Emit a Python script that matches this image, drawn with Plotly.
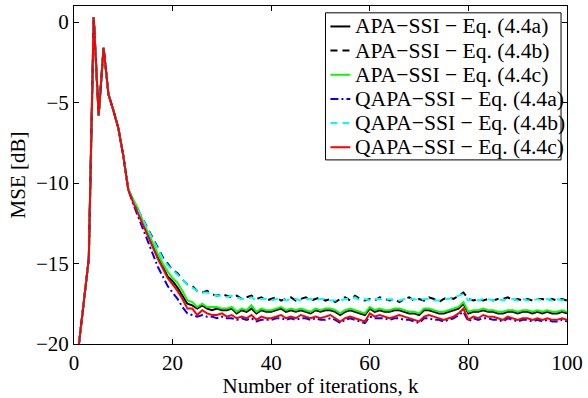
import plotly.graph_objects as go

k = list(range(1, 101))

# shared start (k = 1..11), all curves coincide
early = [-20.0, -17.4, -14.7, 0.3, -5.8, -1.6, -4.5, -5.5, -6.6, -8.3, -10.4]

# k = 12..100
apa_a_tail = [
    -11.1, -11.8, -12.6, -13.3, -13.9, -14.6, -15.2, -15.8, -16.1, -16.5,
    -17.0, -17.5, -17.6, -17.8, -17.6, -17.8, -17.9, -17.8, -17.9, -17.9,
    -17.8, -18.1, -17.9, -18.0, -17.8, -18.1, -17.9, -18.0, -18.0, -17.9,
    -17.8, -18.0, -17.9, -18.0, -17.9, -18.0, -18.1, -17.9, -18.0, -17.9,
    -17.9, -18.0, -18.2, -18.0, -17.9, -18.0, -18.1, -18.2, -17.8, -18.0,
    -17.9, -18.0, -18.0, -17.9, -17.9, -18.0, -18.1, -18.1, -18.2, -17.9,
    -17.9, -18.0, -18.1, -18.1, -18.0, -17.9, -17.8, -17.5, -18.1, -18.0,
    -18.0, -17.9, -18.0, -18.0, -18.1, -18.1, -18.0, -18.0, -18.1, -18.0,
    -18.0, -18.1, -18.0, -18.1, -18.0, -18.1, -18.1, -18.0, -18.1,
]
apa_b_tail = [
    -11.1, -11.7, -12.3, -12.9, -13.5, -14.1, -14.6, -15.0, -15.4, -15.6,
    -16.0, -16.3, -16.4, -16.7, -16.8, -16.7, -16.9, -17.0, -16.9, -17.0,
    -17.1, -17.0, -17.2, -17.1, -17.0, -17.2, -17.1, -17.3, -17.2, -17.1,
    -17.3, -17.2, -17.1, -17.3, -17.2, -17.1, -17.3, -17.2, -17.1, -17.3,
    -17.2, -17.4, -17.2, -17.1, -17.3, -17.0, -17.2, -17.3, -17.2, -17.3,
    -17.1, -17.2, -17.3, -17.2, -17.4, -17.2, -17.1, -17.3, -17.2, -17.3,
    -17.1, -17.2, -17.4, -17.2, -17.1, -17.2, -17.0, -16.8, -17.2, -17.3,
    -17.2, -17.3, -17.2, -17.3, -17.2, -17.2, -17.1, -17.3, -17.2, -17.3,
    -17.2, -17.3, -17.2, -17.2, -17.3, -17.2, -17.3, -17.2, -17.3,
]
apa_c_tail = [
    -11.0, -11.6, -12.4, -13.1, -13.7, -14.4, -15.0, -15.5, -15.9, -16.2,
    -16.7, -17.3, -17.4, -17.7, -17.5, -17.7, -17.7, -17.7, -17.8, -17.8,
    -17.7, -18.0, -17.8, -17.9, -17.6, -18.0, -17.8, -17.9, -17.9, -17.8,
    -17.7, -17.9, -17.8, -17.9, -17.8, -17.9, -18.0, -17.8, -17.9, -17.8,
    -17.8, -17.9, -18.1, -17.9, -17.8, -17.9, -18.0, -18.1, -17.7, -17.9,
    -17.8, -17.9, -17.9, -17.8, -17.8, -17.9, -18.0, -18.0, -18.1, -17.8,
    -17.8, -17.9, -18.0, -18.0, -17.9, -17.8, -17.7, -17.4, -18.0, -17.9,
    -17.9, -17.8, -17.9, -17.9, -18.0, -18.0, -17.9, -17.9, -18.0, -17.9,
    -17.9, -18.0, -17.9, -18.0, -17.9, -18.0, -18.0, -17.9, -18.0,
]
qapa_a_tail = [
    -11.3, -12.1, -12.9, -13.7, -14.5, -15.2, -15.8, -16.4, -16.8, -17.2,
    -17.7, -18.1, -18.2, -18.3, -18.2, -18.3, -18.3, -18.4, -18.3, -18.4,
    -18.4, -18.5, -18.4, -18.5, -18.4, -18.6, -18.5, -18.5, -18.5, -18.4,
    -18.4, -18.5, -18.4, -18.5, -18.4, -18.4, -18.5, -18.4, -18.5, -18.5,
    -18.4, -18.5, -18.7, -18.5, -18.4, -18.5, -18.6, -18.7, -18.3, -18.4,
    -18.4, -18.4, -18.5, -18.4, -18.4, -18.5, -18.5, -18.6, -18.7, -18.4,
    -18.4, -18.5, -18.5, -18.6, -18.5, -18.4, -18.2, -18.0, -18.6, -18.4,
    -18.5, -18.4, -18.4, -18.5, -18.5, -18.6, -18.4, -18.5, -18.6, -18.5,
    -18.5, -18.6, -18.5, -18.6, -18.5, -18.6, -18.6, -18.5, -18.6,
]
qapa_b_tail = [
    -11.1, -11.7, -12.4, -13.0, -13.6, -14.2, -14.7, -15.1, -15.4, -15.7,
    -16.0, -16.3, -16.5, -16.7, -16.8, -16.8, -16.9, -17.0, -17.0, -17.1,
    -17.0, -17.1, -17.2, -17.2, -17.1, -17.3, -17.2, -17.2, -17.3, -17.2,
    -17.2, -17.3, -17.2, -17.2, -17.3, -17.2, -17.2, -17.3, -17.2, -17.2,
    -17.3, -17.3, -17.3, -17.2, -17.2, -17.1, -17.3, -17.2, -17.3, -17.2,
    -17.2, -17.3, -17.2, -17.3, -17.3, -17.2, -17.2, -17.2, -17.3, -17.2,
    -17.2, -17.3, -17.3, -17.2, -17.2, -17.1, -17.0, -16.9, -17.3, -17.2,
    -17.3, -17.2, -17.2, -17.3, -17.2, -17.3, -17.2, -17.2, -17.3, -17.2,
    -17.3, -17.3, -17.2, -17.3, -17.2, -17.3, -17.2, -17.3, -17.2,
]
qapa_c_tail = [
    -11.2, -11.9, -12.7, -13.4, -14.0, -14.7, -15.3, -15.9, -16.3, -16.7,
    -17.2, -17.8, -17.8, -18.2, -17.9, -18.1, -18.2, -18.2, -18.1, -18.3,
    -18.2, -18.4, -18.3, -18.4, -18.2, -18.5, -18.3, -18.4, -18.4, -18.3,
    -18.2, -18.4, -18.3, -18.4, -18.2, -18.3, -18.4, -18.3, -18.4, -18.3,
    -18.2, -18.4, -18.6, -18.4, -18.3, -18.4, -18.5, -18.6, -18.1, -18.3,
    -18.2, -18.3, -18.4, -18.3, -18.2, -18.3, -18.4, -18.5, -18.6, -18.3,
    -18.2, -18.3, -18.4, -18.5, -18.4, -18.3, -18.1, -17.8, -18.5, -18.3,
    -18.4, -18.2, -18.3, -18.3, -18.4, -18.5, -18.3, -18.4, -18.5, -18.4,
    -18.4, -18.5, -18.4, -18.5, -18.4, -18.5, -18.5, -18.4, -18.5,
]

series_names = [
    "APA−SSI − Eq. (4.4a)",
    "APA−SSI − Eq. (4.4b)",
    "APA−SSI − Eq. (4.4c)",
    "QAPA−SSI − Eq. (4.4a)",
    "QAPA−SSI − Eq. (4.4b)",
    "QAPA−SSI − Eq. (4.4c)",
]
series_tails = [apa_a_tail, apa_b_tail, apa_c_tail, qapa_a_tail, qapa_b_tail, qapa_c_tail]
for t in series_tails:
    assert len(t) == 89, len(t)

styles = [
    dict(color="#000000", dash="solid"),
    dict(color="#000000", dash="7px,5px"),
    dict(color="#00ff00", dash="solid"),
    dict(color="#0000ff", dash="8px,3px,2px,3px"),
    dict(color="#00ffff", dash="7px,5px"),
    dict(color="#ff0000", dash="solid"),
]

FAM = "Liberation Serif"
FS = 21
W, H = 588, 398
ML, MR, MT, MB = 74, 18, 5, 46
PW, PH = W - ML - MR, H - MT - MB


def px(xpix):
    return (xpix - ML) / PW


def py(ypix):
    return 1 - (ypix - MT) / PH


fig = go.Figure()
for name, tail, st in zip(series_names, series_tails, styles):
    fig.add_trace(go.Scatter(
        x=k, y=early + tail, mode="lines", name=name, showlegend=False,
        line=dict(color=st["color"], dash=st["dash"], width=2),
    ))

# legend drawn as a boxed key (MATLAB style)
shapes = [dict(type="rect", xref="paper", yref="paper",
               x0=px(327), x1=px(564), y0=py(163), y1=py(12),
               fillcolor="white", line=dict(color="black", width=1), layer="above")]
annotations = []
for i, (name, st) in enumerate(zip(series_names, styles)):
    yc = 26 + 24.8 * i
    shapes.append(dict(type="line", xref="paper", yref="paper",
                       x0=px(332), x1=px(352), y0=py(yc), y1=py(yc),
                       line=dict(color=st["color"], dash=st["dash"], width=2), layer="above"))
    annotations.append(dict(xref="paper", yref="paper", x=px(355), y=py(yc),
                            xanchor="left", yanchor="middle", showarrow=False,
                            text=name, font=dict(family=FAM, size=21.6, color="black")))

fig.update_layout(
    width=W, height=H,
    margin=dict(l=ML, r=MR, t=MT, b=MB),
    paper_bgcolor="white", plot_bgcolor="white",
    font=dict(family=FAM, size=FS, color="black"),
    showlegend=False,
    shapes=shapes, annotations=annotations,
    xaxis=dict(
        range=[0, 100], tickvals=[0, 20, 40, 60, 80, 100],
        ticks="inside", ticklen=5, tickcolor="black",
        tickfont=dict(family=FAM, size=FS, color="black"),
        showline=True, linecolor="black", linewidth=1, mirror="ticks",
        showgrid=False, zeroline=False,
        title=dict(text="Number of iterations, k", standoff=3,
                   font=dict(family=FAM, size=FS, color="black")),
    ),
    yaxis=dict(
        range=[-20, 1], tickvals=[-20, -15, -10, -5, 0],
        ticks="inside", ticklen=5, tickcolor="black",
        tickfont=dict(family=FAM, size=FS, color="black"),
        showline=True, linecolor="black", linewidth=1, mirror="ticks",
        showgrid=False, zeroline=False,
        title=dict(text="MSE [dB]", standoff=4,
                   font=dict(family=FAM, size=FS, color="black")),
    ),
)

fig.write_html("out.html")
